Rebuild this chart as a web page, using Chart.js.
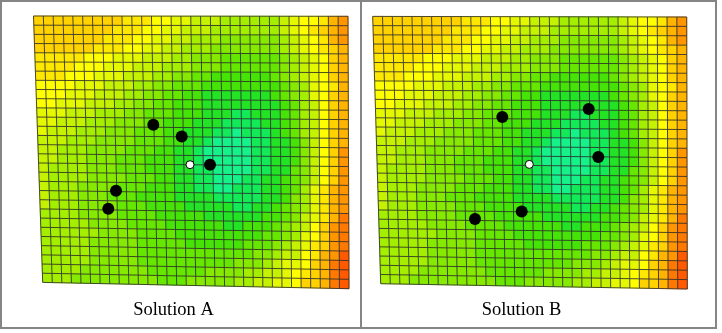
<!DOCTYPE html>
<html><head><meta charset="utf-8">
<script src="https://cdn.jsdelivr.net/npm/chart.js@4.4.0/dist/chart.umd.min.js"></script>
<style>
html,body{margin:0;padding:0;background:#fff;width:722px;height:333px;overflow:hidden}
#frame{position:absolute;left:0;top:0;width:713px;height:325px;border:2px solid #858585}
#divider{position:absolute;left:359.7px;top:0;width:2px;height:329px;background:#858585}
.wrap{position:absolute;top:0;height:321px}
</style></head><body>
<div id="frame"></div><div id="divider"></div>
<div class="wrap" style="left:-3px;width:353px"><canvas id="cA"></canvas></div>
<div class="wrap" style="left:354px;width:335px"><canvas id="cB"></canvas></div>
<script>
// ---------- DATA ----------
const captions = ['Solution A', 'Solution B'];
const gridCols = 32;
const gridRows = 29;
// cell field level per row (hex digit 0..F, low = centre, high = corner)
const fieldRows = [
  "BBBBBBBBBAAA99887776666667899ACD",
  "BBBBBBBBAAA99887776666666789ABCD",
  "BBBBBBBAAA9988776665555556789ACD",
  "BBBBBBAAA99887766655555556789ABC",
  "AAAAA9998887776655544444456789BC",
  "AAAA99988877766655544444456789BC",
  "AAA999888777665544333333456789BC",
  "999988877766554443333333345689AC",
  "999888777665544332222222345689BC",
  "998887776655443332222222234679BC",
  "888777666554443332221122234679BC",
  "887776665554433322211112234679BC",
  "877766655544433222110111234679BC",
  "777666555544433221000011223579BC",
  "776665555444332210000011223579BD",
  "776665554443332210000011223579BD",
  "766665554443332211000011224579BD",
  "766665555444332211000112234579BD",
  "76665555444333221100111223468ACD",
  "76665554443333222211111223568ACD",
  "76665555444333322222112234568ACD",
  "66665555444433333222222334578ACE",
  "66666555544443333332233345679BDE",
  "66666655554444333333333445689BDE",
  "6666655555444443333334445678ABDE",
  "6666655555444444444444556779ACDF",
  "6666655555444444444455567889BCEF",
  "666655555554444445555667789ABCEF",
  "666555555555444555556677889BBCEF"
];
// grid corner nodes in model coordinates [x, y] (y downwards)
const cornersA = { tl: [0, 0], tr: [314.5, 0.3], bl: [9.2, 266.4], br: [315.5, 272.7] };
const cornersB = { tl: [0, 0.4], tr: [314, 1.0], bl: [8, 267.7], br: [314.6, 273] };
// wells (black) and observation point (white)
const wellsA = [{x:119.8,y:108.7},{x:148.2,y:120.4},{x:176.5,y:148.7},{x:82.5,y:174.7},{x:74.8,y:192.7}];
const obsA = [{x:156.5,y:148.7}];
const wellsB = [{x:129.6,y:101},{x:216,y:93},{x:225.6,y:141},{x:149,y:195.4},{x:102.3,y:203}];
const obsB = [{x:156.6,y:148.4}];

// ---------- STYLE ----------
const palette = {
  '0':'#16f28a','1':'#12ea58','2':'#22e424','3':'#46e406','4':'#66e700','5':'#86ea00',
  '6':'#a4ee00','7':'#c4f200','8':'#e4f800','9':'#ffff00','A':'#ffe800','B':'#ffd200',
  'C':'#ffb400','D':'#ff9600','E':'#ff7800','F':'#ff5a00'
};
fieldRows.forEach((r,i)=>{ if(r.length!==gridCols) throw new Error('row '+i+' length '+r.length); });

const gridPlugin = {
  id: 'gridCells',
  beforeDatasetsDraw(chart, args, opts) {
    const ctx = chart.ctx, xs = chart.scales.x, ys = chart.scales.y, c = opts.corners;
    const N = [];
    for (let j = 0; j <= gridRows; j++) {
      const row = [];
      for (let i = 0; i <= gridCols; i++) {
        const u = i / gridCols, v = j / gridRows;
        const mx = (1-u)*(1-v)*c.tl[0] + u*(1-v)*c.tr[0] + (1-u)*v*c.bl[0] + u*v*c.br[0];
        const my = (1-u)*(1-v)*c.tl[1] + u*(1-v)*c.tr[1] + (1-u)*v*c.bl[1] + u*v*c.br[1];
        row.push([xs.getPixelForValue(mx), ys.getPixelForValue(my)]);
      }
      N.push(row);
    }
    ctx.save();
    for (let j = 0; j < gridRows; j++) {
      for (let i = 0; i < gridCols; i++) {
        const col = palette[fieldRows[j][i]];
        ctx.fillStyle = col; ctx.strokeStyle = col; ctx.lineWidth = 0.8;
        ctx.beginPath();
        ctx.moveTo(N[j][i][0], N[j][i][1]);
        ctx.lineTo(N[j][i+1][0], N[j][i+1][1]);
        ctx.lineTo(N[j+1][i+1][0], N[j+1][i+1][1]);
        ctx.lineTo(N[j+1][i][0], N[j+1][i][1]);
        ctx.closePath(); ctx.fill(); ctx.stroke();
      }
    }
    ctx.strokeStyle = 'rgba(45,45,45,0.85)'; ctx.lineWidth = 1;
    ctx.beginPath();
    for (let j = 0; j <= gridRows; j++) {
      ctx.moveTo(N[j][0][0], N[j][0][1]);
      for (let i = 1; i <= gridCols; i++) ctx.lineTo(N[j][i][0], N[j][i][1]);
    }
    for (let i = 0; i <= gridCols; i++) {
      ctx.moveTo(N[0][i][0], N[0][i][1]);
      for (let j = 1; j <= gridRows; j++) ctx.lineTo(N[j][i][0], N[j][i][1]);
    }
    ctx.stroke();
    ctx.restore();
  }
};

function makeChart(id, caption, corners, wells, obs, xmin, xmax) {
  return new Chart(document.getElementById(id), {
    type: 'scatter',
    data: { datasets: [
      { data: wells, pointRadius: 6, pointHoverRadius: 6, backgroundColor: '#000', borderWidth: 0 },
      { data: obs, pointRadius: 4, pointHoverRadius: 4, backgroundColor: '#fff', borderColor: '#000', borderWidth: 1 }
    ]},
    options: {
      animation: false, responsive: true, maintainAspectRatio: false,
      layout: { autoPadding: false, padding: { top: 16, left: 0, right: 0, bottom: 0 } },
      scales: {
        x: { type: 'linear', min: xmin, max: xmax, display: false },
        y: { type: 'linear', min: 0, max: 273.8, reverse: true, display: false }
      },
      plugins: {
        legend: { display: false }, tooltip: { enabled: false },
        title: { display: true, text: caption, position: 'bottom', color: '#000',
          font: { family: "'Liberation Serif','Times New Roman',serif", size: 18.5, weight: 'normal' },
          padding: { top: 9, bottom: 0 } },
        gridCells: { corners: corners }
      }
    },
    plugins: [gridPlugin]
  });
}
makeChart('cA', captions[0], cornersA, wellsA, obsA, -36.5, 316.5);
makeChart('cB', captions[1], cornersB, wellsB, obsB, -18.7, 316.3);
</script>
</body></html>
